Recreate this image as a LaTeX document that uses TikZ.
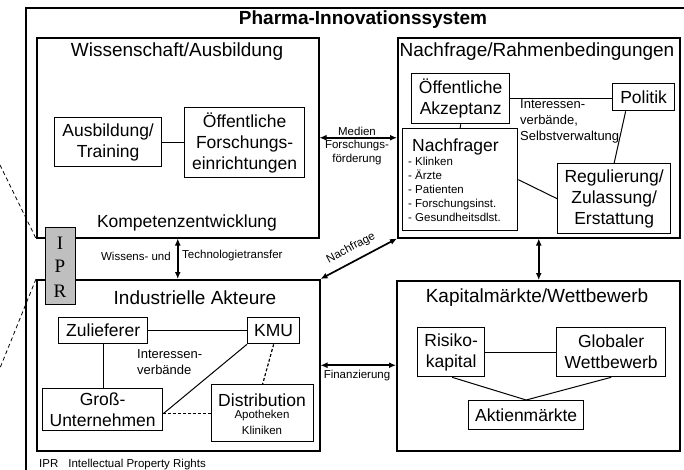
\documentclass[tikz,border=0pt]{standalone}
\usepackage{fontspec}
\setmainfont{Liberation Sans}
\newfontfamily\serifipr{Liberation Serif}
\usetikzlibrary{arrows.meta}
\newcommand{\fsz}[2]{\fontsize{#1}{#2}\selectfont}
\begin{document}
\begin{tikzpicture}[x=1pt,y=-1pt,
 box/.style={draw, line width=1.3pt, align=center, inner sep=0pt, anchor=north west, font=\fsz{17.5}{21}},
 bigbox/.style={draw, line width=1.5pt, inner sep=0pt, anchor=north west},
 heading/.style={font=\fsz{19}{22}, inner sep=0pt},
 lbl/.style={font=\fsz{11.5}{14}, inner sep=0pt, align=center},
 item/.style={font=\fsz{11.5}{14}, inner sep=0pt, anchor=base west},
 mid/.style={font=\fsz{13}{16}, inner sep=0pt, align=left, anchor=north west},
 conn/.style={line width=1pt},
 dconn/.style={line width=1.2pt, dash pattern=on 3pt off 2pt},
 persp/.style={line width=0.8pt, dash pattern=on 4pt off 3pt},
 biarrow/.style={line width=1.7pt, {Latex[length=7pt,width=6pt]}-{Latex[length=7pt,width=6pt]}}
]
\useasboundingbox (0,0) rectangle (684,469);
\clip (0,0) rectangle (684,469);
\fill[white] (0,0) rectangle (684,469);

% outer system box
\node[bigbox, line width=1.6pt, minimum width=680, minimum height=480] (sys) at (25,7) {};
\node[heading, font=\fsz{19}{22}\bfseries] (title) at (363,20) {Pharma-Innovationssystem};

% big boxes
\node[bigbox, minimum width=282, minimum height=200] (wiss) at (36,37) {};
\node[bigbox, minimum width=282, minimum height=200] (nach) at (397,37) {};
\node[bigbox, minimum width=283, minimum height=171] (ind) at (36,279) {};
\node[bigbox, minimum width=283, minimum height=170] (kap) at (396,280) {};

% headings
\node[heading] (hwiss) at (177,52) {Wissenschaft/Ausbildung};
\node[heading, font=\fsz{17.5}{21}] (hkomp) at (187,223) {Kompetenzentwicklung};
\node[heading] (hnach) at (537,52) {Nachfrage/Rahmenbedingungen};
\node[heading] (hind) at (195,298) {Industrielle Akteure};
\node[heading] (hkap) at (537,298) {Kapitalmärkte/Wettbewerb};

% Wissenschaft
\node[box, minimum width=107, minimum height=49] (ausb) at (54,117) {Ausbildung/\\Training};
\node[box, minimum width=120, minimum height=70] (forsch) at (184,107) {Öffentliche\\Forschungs-\\einrichtungen};
\draw[conn] (ausb.east) -- (ausb.east -| forsch.west);

% Nachfrage
\node[box, minimum width=98, minimum height=50] (akz) at (411,73) {Öffentliche\\Akzeptanz};
\node[box, minimum width=62, minimum height=27] (pol) at (612,83) {Politik};
\node[box, minimum width=115, minimum height=102] (nachfr) at (402,128) {};
\node[font=\fsz{17.5}{21}, inner sep=0pt, anchor=base west] (tnachfr) at (412,151) {Nachfrager};
\node[item] (i1) at (408,165) {- Klinken};
\node[item] (i2) at (408,179) {- Ärzte};
\node[item] (i3) at (408,193) {- Patienten};
\node[item] (i4) at (408,207) {- Forschungsinst.};
\node[item] (i5) at (408,221) {- Gesundheitsdlst.};
\node[box, minimum width=113, minimum height=70] (reg) at (557,163) {Regulierung/\\Zulassung/\\Erstattung};
\draw[conn] (akz.east) -- (akz.east -| pol.west);
\draw[conn] (akz.south) -- (nachfr.north);
\draw[conn] ([xshift=-18pt]pol.south) -- (reg.north);
\draw[conn] (nachfr.east) -- (reg.west);
\node[mid] (lint) at (520,99) {Interessen-\\verbände,\\Selbstverwaltung};

% Industrielle Akteure
\node[box, minimum width=89, minimum height=26] (zul) at (58,317) {Zulieferer};
\node[box, minimum width=52, minimum height=26] (kmu) at (247,317) {KMU};
\node[box, minimum width=120, minimum height=42] (gross) at (42,388) {Groß-\\Unternehmen};
\node[box, minimum width=102, minimum height=57] (dist) at (211,384) {};
\node[inner sep=0pt, font=\fsz{17.5}{21}] (tdist) at (262,400) {Distribution};
\node[lbl] (tapo) at (262,416) {Apotheken};
\node[lbl] (tkli) at (262,430) {Kliniken};
\draw[conn] (zul.east) -- (zul.east -| kmu.west);
\draw[conn] (zul.south) -- (zul.south |- gross.north);
\draw[conn] ([yshift=-4pt]gross.east) -- (kmu.south west);
\draw[dconn] ([yshift=-4pt]gross.east) -- ([yshift=-4pt]gross.east -| dist.west);
\draw[dconn] (kmu.south) -- (dist.north);
\node[mid] (lint2) at (137,349) {Interessen-\\verbände};

% Kapitalmaerkte
\node[box, minimum width=67, minimum height=49] (risk) at (417,327) {Risiko-\\kapital};
\node[box, minimum width=109, minimum height=49] (glob) at (556,327) {Globaler\\Wettbewerb};
\node[box, minimum width=115, minimum height=29] (akt) at (468,400) {Aktienmärkte};
\draw[conn] (risk.east) -- (risk.east -| glob.west);
\draw[conn] ([xshift=1pt]risk.south) -- (akt.north);
\draw[conn] (glob.south) -- (akt.north);

% arrows between areas
\draw[biarrow] (wiss.east) -- (wiss.east -| nach.west);
\node[lbl] (lmed) at (357,131) {Medien};
\node[lbl] (lfor) at (357,153) {Forschungs-\\förderung};
\draw[biarrow] (wiss.south) -- (wiss.south |- ind.north);
\node[lbl, anchor=east] (lwis) at (171,256) {Wissens- und};
\node[lbl, anchor=west] (ltec) at (182,256) {Technologietransfer};
\draw[biarrow] (ind.north east) -- (nach.south west);
\node[lbl, rotate=28] (lnach) at (351,248) {Nachfrage};
\draw[biarrow] (nach.south) -- (nach.south |- kap.north);
\draw[biarrow] (ind.east) -- (ind.east -| kap.west);
\node[lbl] (lfin) at (357,376) {Finanzierung};

% IPR
\coordinate (p1) at (0,165);
\coordinate (p2) at (0,368);
\draw[persp] (p1) -- (wiss.south west);
\draw[persp] (ind.north west) -- (p2);
\node[draw, line width=1pt, fill=black!25, minimum width=30, minimum height=77, inner sep=0pt, anchor=north west] (ipr) at (45,227) {};
\node[inner sep=0pt, font=\serifipr\fsz{19}{22}] (ipri) at (60,243) {I};
\node[inner sep=0pt, font=\serifipr\fsz{19}{22}] (iprp) at (60,266) {P};
\node[inner sep=0pt, font=\serifipr\fsz{19}{22}] (iprr) at (60,291) {R};

% footnote
\node[item, anchor=base west] (fn) at (39,467) {IPR\hspace{10pt}Intellectual Property Rights};
\end{tikzpicture}
\end{document}
